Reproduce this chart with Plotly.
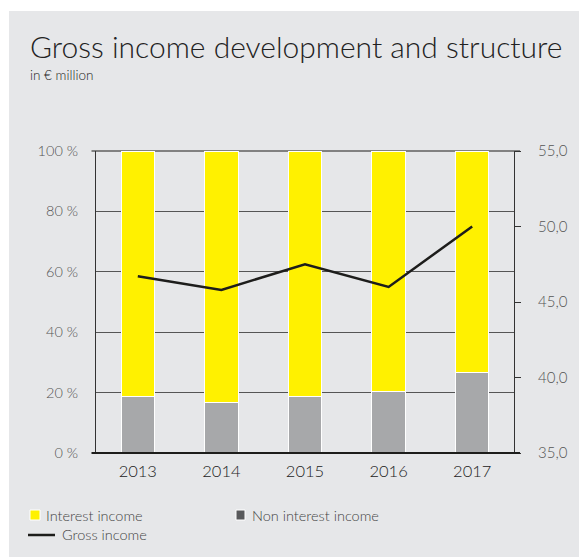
import plotly.graph_objects as go

# Data
years = ["2013", "2014", "2015", "2016", "2017"]
non_interest_pct = [18.7, 16.8, 18.8, 20.4, 26.6]
interest_pct = [100 - v for v in non_interest_pct]
gross_income = [46.7, 45.8, 47.5, 46.0, 50.0]

left_tickvals = [0, 20, 40, 60, 80, 100]
left_ticktext = ["0 %", "20 %", "40 %", "60 %", "80 %", "100 %"]
right_tickvals = [35, 40, 45, 50, 55]
right_ticktext = ["35,0", "40,0", "45,0", "50,0", "55,0"]

YELLOW = "#FFF100"
GREY_BAR = "#A7A8AA"
GREY_KEY = "#58595B"
PANEL = "#E6E7E9"
INK = "#1D1D1B"
FONT = "Lato"

W, H = 579, 557
L, R, T, B = 96, 65, 151, 104
PW, PH = W - L - R, H - T - B


def px(x):
    return (x - L) / PW


def py(y):
    return (H - B - y) / PH


fig = go.Figure()

fig.add_trace(go.Bar(
    x=years, y=non_interest_pct, name="Non interest income",
    marker=dict(color=GREY_BAR, line=dict(color="white", width=1)),
    width=0.4, showlegend=False,
))
fig.add_trace(go.Bar(
    x=years, y=interest_pct, name="Interest income",
    marker=dict(color=YELLOW, line=dict(color="white", width=1)),
    width=0.4, showlegend=False,
))
fig.add_trace(go.Scatter(
    x=years, y=gross_income, name="Gross income", yaxis="y2",
    mode="lines", line=dict(color=INK, width=2.5), showlegend=False,
))

shapes = [
    # grey panel with white edges on left/top
    dict(type="rect", xref="paper", yref="paper", x0=px(0), x1=px(9),
         y0=py(H), y1=py(0), fillcolor="white", line=dict(width=0), layer="below"),
    dict(type="rect", xref="paper", yref="paper", x0=px(0), x1=px(W),
         y0=py(11), y1=py(0), fillcolor="white", line=dict(width=0), layer="below"),
    # frame lines at top and bottom of the plot
    dict(type="line", xref="paper", yref="paper", x0=px(91.5), x1=px(520),
         y0=1, y1=1, line=dict(color=INK, width=1.2), layer="below"),
    dict(type="line", xref="paper", yref="paper", x0=px(91.5), x1=px(520),
         y0=0, y1=0, line=dict(color=INK, width=2.2), layer="above"),
    # legend keys
    dict(type="rect", xref="paper", yref="paper", x0=px(30), x1=px(40),
         y0=py(520), y1=py(510), fillcolor=YELLOW, line=dict(color="white", width=1)),
    dict(type="rect", xref="paper", yref="paper", x0=px(236), x1=px(245),
         y0=py(520), y1=py(510), fillcolor=GREY_KEY, line=dict(color="white", width=1)),
    dict(type="line", xref="paper", yref="paper", x0=px(28), x1=px(55),
         y0=py(535), y1=py(535), line=dict(color=INK, width=2.5)),
]

annotations = [
    dict(text="Gross income development and structure", x=px(28), y=py(46),
         xref="paper", yref="paper", xanchor="left", yanchor="middle",
         showarrow=False, font=dict(family=FONT, size=30, color="#222222", weight=300)),
    dict(text="in € million", x=px(28), y=py(75),
         xref="paper", yref="paper", xanchor="left", yanchor="middle",
         showarrow=False, font=dict(family=FONT, size=13.5, color="#222222", weight=300)),
    dict(text="Interest income", x=px(44), y=py(515),
         xref="paper", yref="paper", xanchor="left", yanchor="middle",
         showarrow=False, font=dict(family=FONT, size=14.5, color="#444444", weight=300)),
    dict(text="Non interest income", x=px(250), y=py(515),
         xref="paper", yref="paper", xanchor="left", yanchor="middle",
         showarrow=False, font=dict(family=FONT, size=14.5, color="#444444", weight=300)),
    dict(text="Gross income", x=px(60), y=py(534),
         xref="paper", yref="paper", xanchor="left", yanchor="middle",
         showarrow=False, font=dict(family=FONT, size=14.5, color="#444444", weight=300)),
]

fig.update_layout(
    width=W, height=H,
    margin=dict(l=L, r=R, t=T, b=B, pad=0),
    paper_bgcolor=PANEL, plot_bgcolor=PANEL,
    barmode="stack",
    showlegend=False,
    font=dict(family=FONT, color="#444444"),
    shapes=shapes,
    annotations=annotations,
    xaxis=dict(
        type="category", showline=False, showgrid=False, zeroline=False,
        ticks="", tickfont=dict(size=16.5, color="#222222", weight=300),
        ticklabelstandoff=6,
    ),
    yaxis=dict(
        range=[0, 100], tickvals=left_tickvals, ticktext=left_ticktext,
        showline=True, linecolor="#333333", linewidth=1,
        showgrid=True, gridcolor="#555555", gridwidth=1, zeroline=False,
        ticks="", tickfont=dict(size=14.5, color="#555555", weight=300),
        ticklabelstandoff=14,
    ),
    yaxis2=dict(
        overlaying="y", side="right", range=[35, 55],
        tickvals=right_tickvals, ticktext=right_ticktext,
        showline=True, linecolor="#333333", linewidth=1,
        showgrid=False, zeroline=False,
        ticks="outside", ticklen=6, tickcolor="#333333",
        tickfont=dict(size=15, color="#555555", weight=300),
        ticklabelstandoff=14,
    ),
)

fig.write_html("out.html")
